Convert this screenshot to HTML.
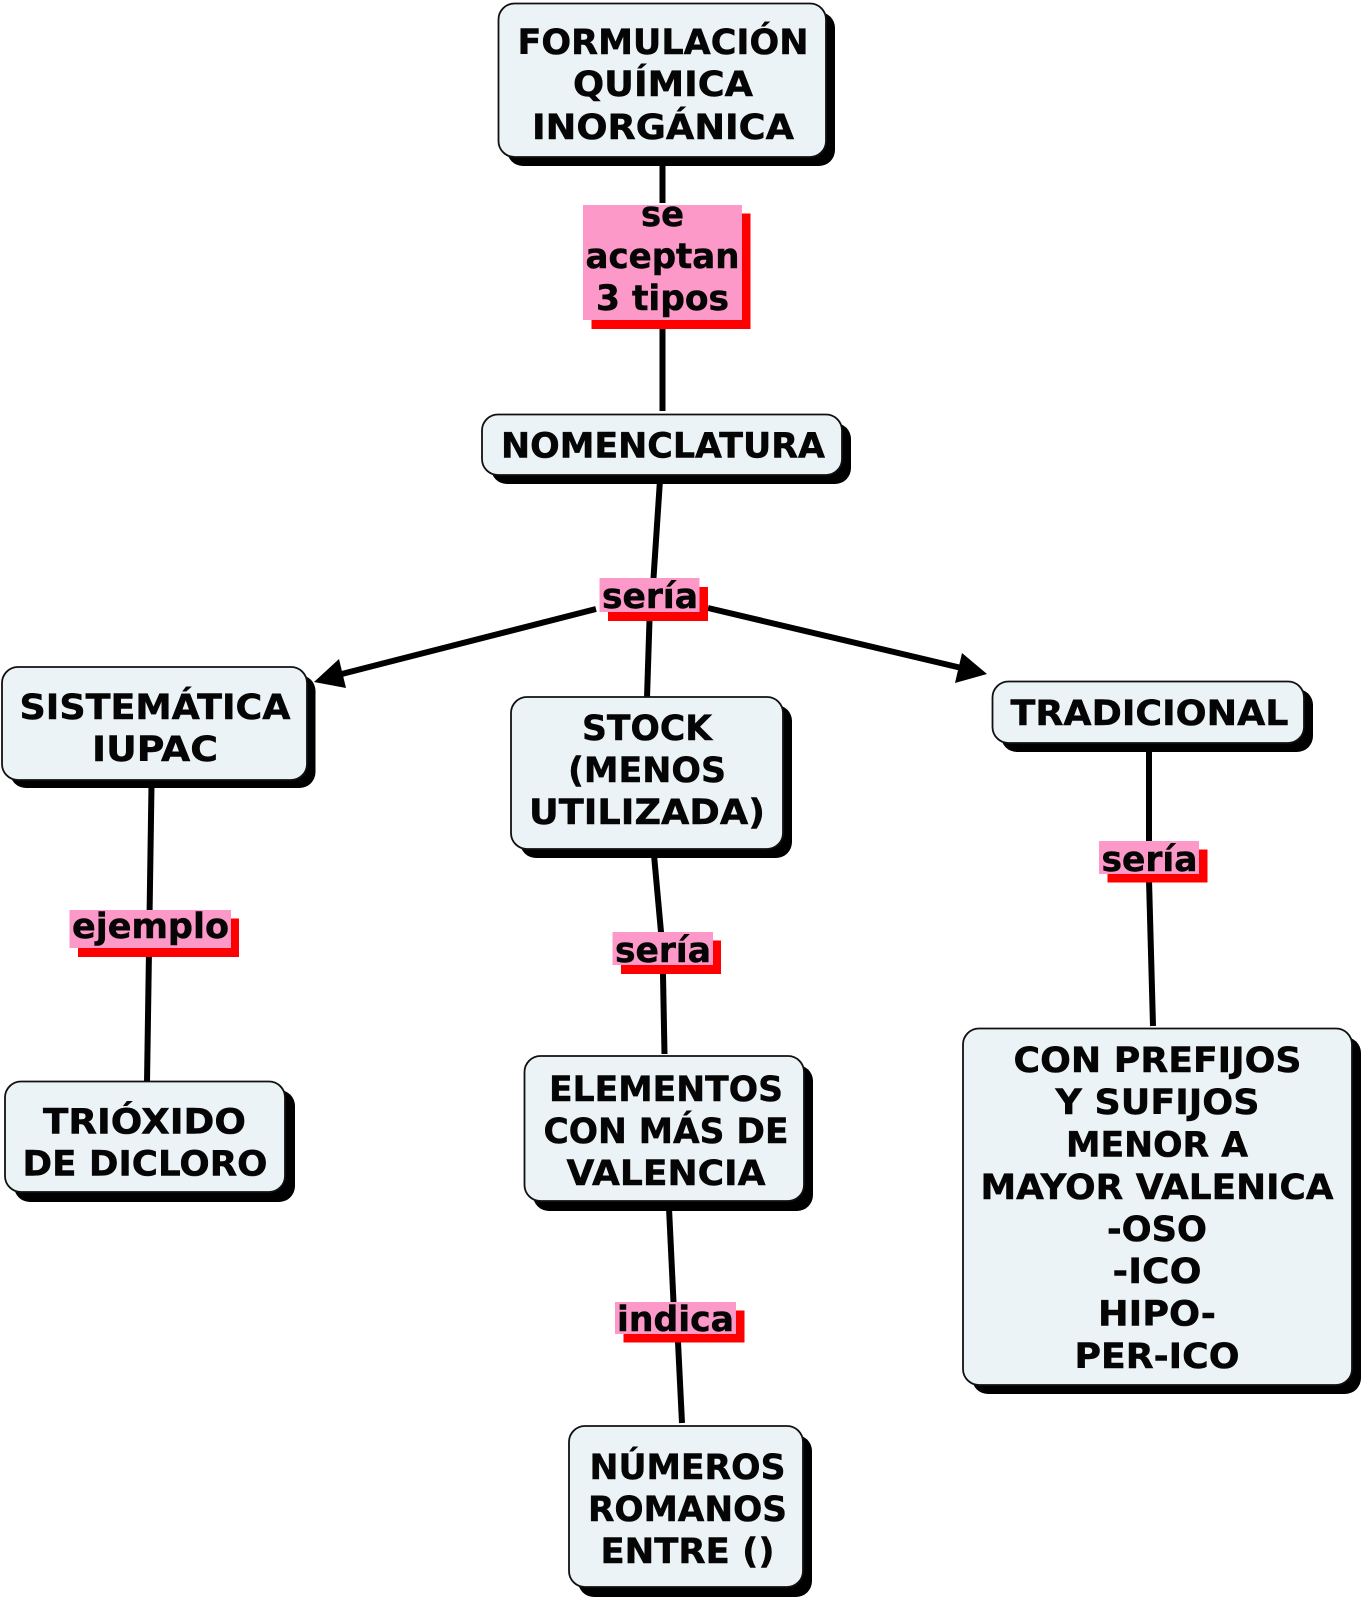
<!DOCTYPE html>
<html>
<head>
<meta charset="utf-8">
<style>
html,body{margin:0;padding:0;background:#fff;}
svg{display:block;}
text{font-family:"DejaVu Sans","Liberation Sans",sans-serif;font-weight:bold;font-size:35px;fill:#050505;stroke:#050505;stroke-width:.5;text-anchor:middle;}
.n{fill:#ecf3f6;stroke:#111;stroke-width:1.8;}
.s{fill:#000;}
.p{fill:#fd99c8;}
.r{fill:#fe0000;}
.l{stroke:#000;stroke-width:6;fill:none;}
</style>
</head>
<body>
<svg width="1366" height="1600" viewBox="0 0 1366 1600" xmlns="http://www.w3.org/2000/svg">
<rect width="1366" height="1600" fill="#fff"/>

<!-- connectors -->
<line class="l" x1="662.5" y1="160" x2="662.5" y2="203"/>
<line class="l" x1="662.5" y1="325" x2="662.5" y2="411"/>
<polyline class="l" points="660,480 653.5,578 649.5,620 647,698"/>
<line class="l" x1="596" y1="609" x2="330" y2="677"/>
<polygon points="314,682 339,659 346,688" fill="#000"/>
<line class="l" x1="708" y1="608" x2="970" y2="670"/>
<polygon points="987,674 962,653 955,683" fill="#000"/>
<line class="l" x1="151.5" y1="785" x2="147" y2="1083"/>
<polyline class="l" points="654,855 661,932 663,975 664.5,1054"/>
<polyline class="l" points="669,1208 673.5,1302 678,1342 682,1423"/>
<line class="l" x1="1149" y1="748" x2="1149" y2="842"/>
<line class="l" x1="1149" y1="880" x2="1153" y2="1026"/>

<!-- top node -->
<rect class="s" x="507" y="12" width="328" height="154" rx="16"/>
<rect class="n" x="498.5" y="3.5" width="327.5" height="153.5" rx="16"/>
<text x="663" y="54" textLength="291" lengthAdjust="spacingAndGlyphs">FORMULACIÓN</text>
<text x="663" y="96" textLength="180" lengthAdjust="spacingAndGlyphs">QUÍMICA</text>
<text x="663" y="139" textLength="262" lengthAdjust="spacingAndGlyphs">INORGÁNICA</text>

<!-- se aceptan -->
<rect class="r" x="591.5" y="213.5" width="159" height="115.5"/>
<rect class="p" x="583" y="205" width="159" height="115"/>
<text x="662.5" y="226" textLength="43" lengthAdjust="spacingAndGlyphs">se</text>
<text x="662.5" y="268" textLength="154" lengthAdjust="spacingAndGlyphs">aceptan</text>
<text x="662.5" y="310" textLength="133" lengthAdjust="spacingAndGlyphs">3 tipos</text>

<!-- nomenclatura -->
<rect class="s" x="491" y="423" width="360" height="61" rx="16"/>
<rect class="n" x="482" y="414.5" width="360" height="60.5" rx="16"/>
<text x="663" y="457.5" textLength="324" lengthAdjust="spacingAndGlyphs">NOMENCLATURA</text>

<!-- sería 1 -->
<rect class="r" x="608" y="587" width="100" height="34"/>
<rect class="p" x="599.5" y="578" width="100" height="34"/>
<text x="650" y="608" textLength="96" lengthAdjust="spacingAndGlyphs">sería</text>

<!-- sistemática -->
<rect class="s" x="10" y="675" width="305.5" height="113" rx="16"/>
<rect class="n" x="2" y="667" width="305" height="113" rx="16"/>
<text x="155" y="719" textLength="271" lengthAdjust="spacingAndGlyphs">SISTEMÁTICA</text>
<text x="155" y="761" textLength="126" lengthAdjust="spacingAndGlyphs">IUPAC</text>

<!-- stock -->
<rect class="s" x="520" y="705" width="272" height="153" rx="16"/>
<rect class="n" x="511" y="697" width="272" height="152" rx="16"/>
<text x="647" y="740" textLength="130" lengthAdjust="spacingAndGlyphs">STOCK</text>
<text x="647" y="782" textLength="158" lengthAdjust="spacingAndGlyphs">(MENOS</text>
<text x="647" y="824" textLength="236" lengthAdjust="spacingAndGlyphs">UTILIZADA)</text>

<!-- tradicional -->
<rect class="s" x="1001" y="689" width="312" height="63" rx="16"/>
<rect class="n" x="992.5" y="681.5" width="311.5" height="61.5" rx="16"/>
<text x="1149.5" y="725" textLength="278" lengthAdjust="spacingAndGlyphs">TRADICIONAL</text>

<!-- sería 3 -->
<rect class="r" x="1107.5" y="849.5" width="100" height="33"/>
<rect class="p" x="1099" y="841" width="100" height="33"/>
<text x="1149.5" y="871" textLength="96" lengthAdjust="spacingAndGlyphs">sería</text>

<!-- ejemplo -->
<rect class="r" x="78" y="918.5" width="161" height="38.5"/>
<rect class="p" x="69.5" y="910" width="161.5" height="38"/>
<text x="150.5" y="938" textLength="157" lengthAdjust="spacingAndGlyphs">ejemplo</text>

<!-- trióxido -->
<rect class="s" x="14" y="1090" width="281" height="112" rx="16"/>
<rect class="n" x="5" y="1081.5" width="280" height="110.5" rx="16"/>
<text x="144.5" y="1133.5" textLength="203" lengthAdjust="spacingAndGlyphs">TRIÓXIDO</text>
<text x="145" y="1175.5" textLength="245" lengthAdjust="spacingAndGlyphs">DE DICLORO</text>

<!-- sería 2 -->
<rect class="r" x="621" y="940.5" width="100" height="33.5"/>
<rect class="p" x="612.5" y="932" width="100.5" height="33"/>
<text x="663" y="962" textLength="96" lengthAdjust="spacingAndGlyphs">sería</text>

<!-- elementos -->
<rect class="s" x="533" y="1065" width="280" height="146" rx="16"/>
<rect class="n" x="524.5" y="1056" width="279.5" height="145" rx="16"/>
<text x="666" y="1101" textLength="234" lengthAdjust="spacingAndGlyphs">ELEMENTOS</text>
<text x="666" y="1143" textLength="245" lengthAdjust="spacingAndGlyphs">CON MÁS DE</text>
<text x="666" y="1185" textLength="199" lengthAdjust="spacingAndGlyphs">VALENCIA</text>

<!-- indica -->
<rect class="r" x="623.5" y="1310.5" width="121" height="32"/>
<rect class="p" x="615" y="1302" width="121" height="32"/>
<text x="675.5" y="1331" textLength="117" lengthAdjust="spacingAndGlyphs">indica</text>

<!-- números -->
<rect class="s" x="578" y="1435" width="234" height="162" rx="16"/>
<rect class="n" x="569" y="1426" width="234" height="161" rx="16"/>
<text x="687.5" y="1479" textLength="196" lengthAdjust="spacingAndGlyphs">NÚMEROS</text>
<text x="687.5" y="1521" textLength="199" lengthAdjust="spacingAndGlyphs">ROMANOS</text>
<text x="687.5" y="1563" textLength="174" lengthAdjust="spacingAndGlyphs">ENTRE ()</text>

<!-- con prefijos -->
<rect class="s" x="972" y="1037" width="389" height="357" rx="16"/>
<rect class="n" x="963" y="1028.5" width="389" height="356.5" rx="16"/>
<text x="1157.5" y="1072" textLength="288" lengthAdjust="spacingAndGlyphs">CON PREFIJOS</text>
<text x="1157.5" y="1114" textLength="204" lengthAdjust="spacingAndGlyphs">Y SUFIJOS</text>
<text x="1157" y="1156.5" textLength="182" lengthAdjust="spacingAndGlyphs">MENOR A</text>
<text x="1157" y="1199" textLength="353" lengthAdjust="spacingAndGlyphs">MAYOR VALENICA</text>
<text x="1157" y="1241" textLength="100" lengthAdjust="spacingAndGlyphs">-OSO</text>
<text x="1157" y="1283" textLength="89" lengthAdjust="spacingAndGlyphs">-ICO</text>
<text x="1157" y="1325.5" textLength="118" lengthAdjust="spacingAndGlyphs">HIPO-</text>
<text x="1157" y="1368" textLength="165" lengthAdjust="spacingAndGlyphs">PER-ICO</text>
</svg>
</body>
</html>
